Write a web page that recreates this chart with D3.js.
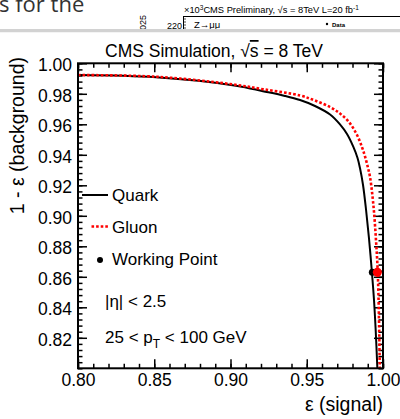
<!DOCTYPE html>
<html><head><meta charset="utf-8">
<script src="https://cdn.jsdelivr.net/npm/d3@7"></script>
<style>html,body{margin:0;padding:0;background:#fff;}svg{display:block;}</style>
</head><body>
<script>
const quarkSig = [0.8000,0.8512,0.9036,0.9213,0.9357,0.9456,0.9554,0.9653,0.9718,0.9764,0.9805,0.9833,0.9849,0.9869,0.9889,0.9908,0.9926,0.9941,0.9952,0.9963];
const quarkBkg = [0.9923,0.9908,0.9853,0.9817,0.9786,0.9759,0.9720,0.9664,0.9599,0.9536,0.9453,0.9379,0.9313,0.9202,0.9038,0.8854,0.8645,0.8448,0.8251,0.8000];
const gluonSig = [0.8000,0.8512,0.8997,0.9213,0.9456,0.9554,0.9653,0.9718,0.9777,0.9828,0.9862,0.9882,0.9902,0.9915,0.9928,0.9941,0.9954,0.9965,0.9971,0.9975,0.9979];
const gluonBkg = [0.9923,0.9912,0.9864,0.9830,0.9789,0.9756,0.9713,0.9671,0.9615,0.9533,0.9451,0.9389,0.9313,0.9254,0.9156,0.9025,0.8841,0.8645,0.8448,0.8251,0.8000];
const wpSig = [0.9930, 0.9963];
const wpBkg = [0.8630, 0.8630];
const xTicks = [0.80,0.85,0.90,0.95,1.00];
const yTicks = [0.82,0.84,0.86,0.88,0.90,0.92,0.94,0.96,0.98,1.00];

const W=400,H=419;
const svg=d3.select("body").append("svg").attr("width",W).attr("height",H);
const F="'Liberation Sans', Arial, sans-serif";

// --- top artifact (cropped slide) ---
svg.append("text").attr("x",-1).attr("y",12).attr("font-family","'Open Sans', sans-serif").attr("font-size",22).attr("fill","#333").text("s for the");
svg.append("line").attr("x1",183).attr("x2",400).attr("y1",16.5).attr("y2",16.5).attr("stroke","#000").attr("stroke-width",1);
svg.append("line").attr("x1",183.5).attr("x2",183.5).attr("y1",16).attr("y2",30).attr("stroke","#000").attr("stroke-width",1);
[19,22,25,28].forEach(v=>svg.append("line").attr("x1",183).attr("x2",186).attr("y1",v).attr("y2",v).attr("stroke","#000").attr("stroke-width",0.7));
svg.append("text").attr("x",184).attr("y",13).attr("font-family",F).attr("font-size",9.3).attr("fill","#000")
  .html("×10<tspan dy='-3' font-size='6.5'>3</tspan><tspan dy='3'>CMS Preliminary, √s = 8TeV L=20 fb</tspan><tspan dy='-3' font-size='6.5'>-1</tspan>");
svg.append("text").attr("x",182).attr("y",29).attr("text-anchor","end").attr("font-family",F).attr("font-size",9).text("220");
svg.append("text").attr("transform","translate(146,30) rotate(-90)").attr("font-family",F).attr("font-size",9).text("025");
svg.append("text").attr("x",194).attr("y",28).attr("font-family",F).attr("font-size",9.5).text("Z→μμ");
svg.append("circle").attr("cx",327).attr("cy",24).attr("r",1.2).attr("fill","#000");
svg.append("text").attr("x",332).attr("y",26.5).attr("font-family",F).attr("font-size",6).attr("font-weight","bold").text("Data");
svg.append("rect").attr("x",0).attr("y",29).attr("width",W).attr("height",3.5).attr("fill","#d2d2d2");
svg.append("rect").attr("x",0).attr("y",32.5).attr("width",W).attr("height",H-32.5).attr("fill","#fff");

// --- main plot ---
const x=d3.scaleLinear().domain([0.8,1.0]).range([78,383]);
const y=d3.scaleLinear().domain([0.8,1.0]).range([368.3,63.3]);

const minorX=d3.range(0.80,1.0001,0.01);
const minorY=d3.range(0.80,1.0001,0.004);

function styleAxis(g){g.attr("font-family",F);g.select(".domain").remove();g.selectAll("line").attr("stroke","#000").attr("stroke-width",1.5);}

svg.append("g").attr("transform","translate(0,368.3)").call(d3.axisBottom(x).tickValues(minorX).tickSize(-4.5).tickFormat("")).call(styleAxis);
svg.append("g").attr("transform","translate(0,63.3)").call(d3.axisTop(x).tickValues(minorX).tickSize(-4.5).tickFormat("")).call(styleAxis);
svg.append("g").attr("transform","translate(78,0)").call(d3.axisLeft(y).tickValues(minorY).tickSize(-4.5).tickFormat("")).call(styleAxis);
svg.append("g").attr("transform","translate(383,0)").call(d3.axisRight(y).tickValues(minorY).tickSize(-4.5).tickFormat("")).call(styleAxis);
const gx=svg.append("g").attr("transform","translate(0,368.3)").call(d3.axisBottom(x).tickValues(xTicks).tickSize(-9).tickPadding(6).tickFormat(d3.format(".2f"))).call(styleAxis);
gx.selectAll("text").attr("font-family",F).attr("font-size",17.5).attr("fill","#000").attr("dy","0").attr("y",18);
svg.append("g").attr("transform","translate(0,63.3)").call(d3.axisTop(x).tickValues(xTicks).tickSize(-9).tickFormat("")).call(styleAxis);
const gy=svg.append("g").attr("transform","translate(78,0)").call(d3.axisLeft(y).tickValues(yTicks).tickSize(-9).tickPadding(6).tickFormat(d3.format(".2f"))).call(styleAxis);
gy.selectAll("text").attr("font-family",F).attr("font-size",17.5).attr("fill","#000").attr("dy","0").attr("y",7.5);
svg.append("g").attr("transform","translate(383,0)").call(d3.axisRight(y).tickValues(yTicks).tickSize(-9).tickFormat("")).call(styleAxis);

svg.append("clipPath").attr("id","clip").append("rect").attr("x",78).attr("y",63.3).attr("width",305).attr("height",305);

const line=d3.line().x(d=>x(d[0])).y(d=>y(d[1])).curve(d3.curveCatmullRom.alpha(0.5));
const plot=svg.append("g").attr("clip-path","url(#clip)");
plot.append("path").datum(d3.zip(quarkSig,quarkBkg)).attr("d",line).attr("fill","none").attr("stroke","#000").attr("stroke-width",2);
plot.append("path").datum(d3.zip(gluonSig,gluonBkg)).attr("d",line).attr("fill","none").attr("stroke","#ff0000").attr("stroke-width",2.6).attr("stroke-dasharray","2.6,2");
svg.append("circle").attr("cx",x(wpSig[0])).attr("cy",y(wpBkg[0])).attr("r",3.5).attr("fill","#000");
svg.append("circle").attr("cx",x(wpSig[1])).attr("cy",y(wpBkg[1])).attr("r",4.5).attr("fill","#ff0000");

svg.append("rect").attr("x",78).attr("y",63.3).attr("width",305).attr("height",305).attr("fill","none").attr("stroke","#000").attr("stroke-width",2);

const t=svg.append("text").attr("x",214).attr("y",57).attr("text-anchor","middle").attr("font-family",F).attr("font-size",17.5).attr("fill","#000");
t.append("tspan").text("CMS Simulation, √");
t.append("tspan").style("text-decoration","overline").text("s");
t.append("tspan").text(" = 8 TeV");

svg.append("text").attr("x",383).attr("y",411).attr("text-anchor","end").attr("font-family",F).attr("font-size",19.5).text("ε (signal)");
svg.append("text").attr("transform","translate(24,57) rotate(-90)").attr("text-anchor","end").attr("font-family",F).attr("font-size",19.5).text("1 - ε (background)");

svg.append("line").attr("x1",82).attr("x2",108).attr("y1",195).attr("y2",195).attr("stroke","#000").attr("stroke-width",2);
svg.append("line").attr("x1",91.5).attr("x2",108).attr("y1",226.5).attr("y2",226.5).attr("stroke","#ff0000").attr("stroke-width",2.6).attr("stroke-dasharray","2.6,2");
svg.append("circle").attr("cx",100).attr("cy",260).attr("r",3).attr("fill","#000");
[["Quark",201],["Gluon",232.5],["Working Point",265]].forEach(([s,yy])=>
  svg.append("text").attr("x",112).attr("y",yy).attr("font-family",F).attr("font-size",17).text(s));
svg.append("text").attr("x",105).attr("y",307).attr("font-family",F).attr("font-size",17).text("|η| < 2.5");
const pt=svg.append("text").attr("x",105).attr("y",343).attr("font-family",F).attr("font-size",17);
pt.append("tspan").text("25 < p");
pt.append("tspan").attr("dy",5).attr("font-size",12).text("T");
pt.append("tspan").attr("dy",-5).text(" < 100 GeV");
</script>
</body></html>
